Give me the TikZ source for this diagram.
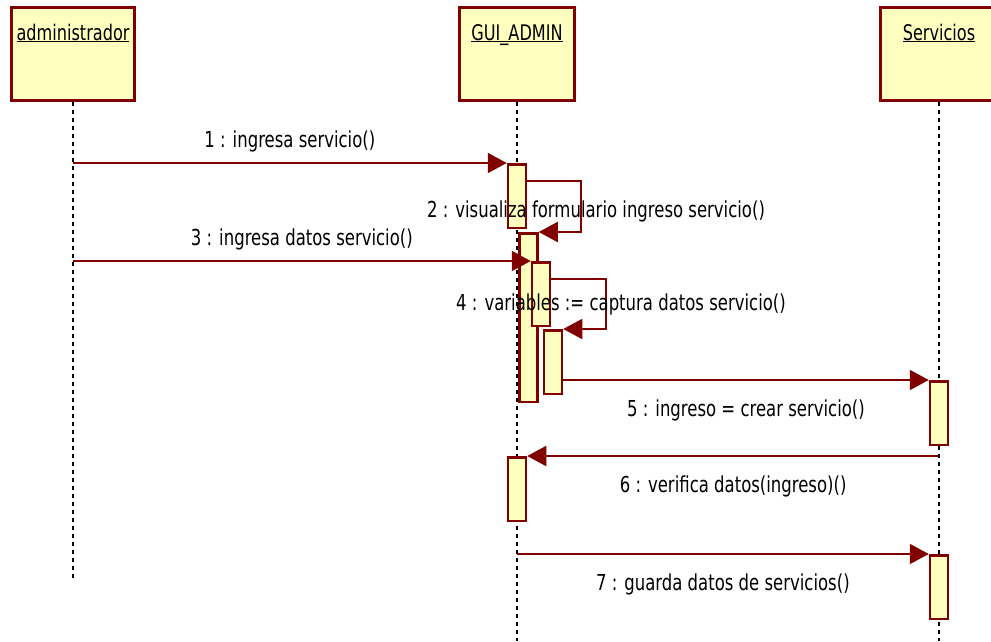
\documentclass[tikz,border=0pt]{standalone}
\usepackage{fontspec}
\setmainfont{DejaVu Sans}[FakeStretch=0.75]
\usetikzlibrary{arrows.meta, positioning}
\tikzset{>={Triangle[width=20pt,length=19pt]}}
\definecolor{umlred}{RGB}{128,0,0}
\definecolor{umlfill}{RGB}{255,255,192}
\newcommand{\headname}[1]{\underline{\smash{#1}}}

\begin{document}
\begin{tikzpicture}[x=1pt, y=-1pt,
    head/.style={draw=umlred, fill=umlfill, line width=3pt, minimum width=123pt, inner xsep=0pt, inner ysep=0pt, text height=32.5pt, text depth=60.5pt, font=\fontsize{21.5}{24}\selectfont},
    bar/.style={draw=umlred, fill=umlfill, line width=2.5pt, minimum width=18pt, minimum height=63.5pt, inner sep=0pt},
    msg/.style={draw=umlred, line width=2pt, ->},
    lifeline/.style={draw=black, line width=2pt, dash pattern=on 4pt off 4pt},
    msglabel/.style={inner sep=0pt, font=\fontsize{22}{25}\selectfont}]

    \useasboundingbox (0,0) rectangle (991,641);

    %Lifelines
    \node[head] (admin) at (73,54) {\headname{administrador}};
    \node[head, minimum width=115pt] (gui) at (517,54) {\headname{GUI\_ADMIN}};
    \node[head, minimum width=117pt] (serv) at (939,54) {\headname{Servicios}};
    \coordinate (admin_end) at (73,580);
    \coordinate (gui_end) at (517,641);
    \coordinate (serv_end) at (939,641);
    \draw[lifeline] (admin.south) -- (admin_end);
    \draw[lifeline] (gui.south) -- (gui_end);
    \draw[lifeline] (serv.south) -- (serv_end);

    %Activations
    \node[bar] (a1) at (517,196) {};
    \node[bar, minimum height=168.5pt] (a2) at (528.5,317.5) {};
    \node[bar] (a3) at (541,294) {};
    \node[bar] (a4) at (553,362) {};
    \node[bar] (a5) at (517,489) {};
    \node[bar] (s1) at (939,413) {};
    \node[bar] (s2) at (939,587) {};

    %Messages
    \draw[msg] (a1.north west -| admin) -- node[msglabel, above=10pt] (l1) {1 : ingresa servicio()} (a1.north west);
    \draw[msg] ([yshift=-18pt]a1.north east) -- ++(54,0) |- (a2.north east);
    \node[msglabel, anchor=base] (l2) at (596,217) {2 : visualiza formulario ingreso servicio()};
    \draw[msg] (a3.north west -| admin) -- node[msglabel, above=10pt] (l3) {3 : ingresa datos servicio()} (a3.north west);
    \draw[msg] ([yshift=-18pt]a3.north east) -- ++(55,0) |- (a4.north east);
    \node[msglabel, anchor=base] (l4) at (621,310) {4 : variables := captura datos servicio()};
    \draw[msg] (a4.east |- s1.north west) -- node[msglabel, below=19pt] (l5) {5 : ingreso = crear servicio()} (s1.north west);
    \draw[msg] (a5.north east -| serv) -- node[msglabel, below=19pt] (l6) {6 : verifica datos(ingreso)()} (a5.north east);
    \draw[msg] (s2.north west -| gui) -- node[msglabel, below=19pt] (l7) {7 : guarda datos de servicios()} (s2.north west);

\end{tikzpicture}
\end{document}
